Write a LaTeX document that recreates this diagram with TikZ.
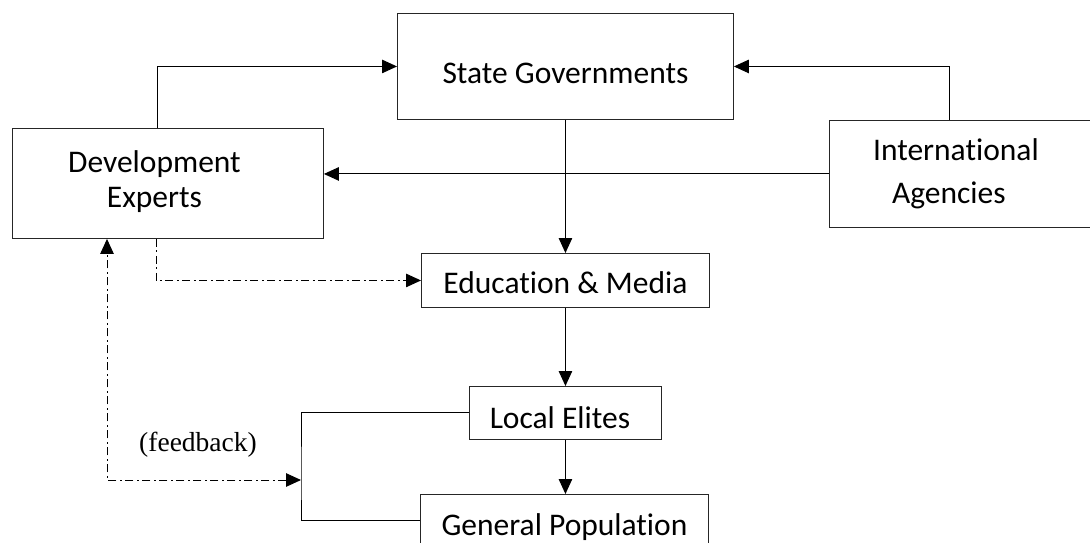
\documentclass[tikz,border=0pt]{standalone}
\usepackage{fontspec}
\setmainfont[Ligatures=NoCommon]{Carlito}
\newfontfamily\notefont{Liberation Serif}
\usetikzlibrary{arrows.meta,calc}
\begin{document}
\begin{tikzpicture}[x=1pt,y=-1pt,
  box/.style={draw=black!85, line width=0.9pt, rectangle, inner sep=0pt,
    font=\fontsize{31.5}{35}\selectfont, anchor=north west},
  tip/.style={-{Triangle[length=15pt,width=13.5pt]}},
  link/.style={draw=black, line width=1pt, tip},
  fb/.style={draw=black, line width=1pt, dash pattern=on 8pt off 3.5pt on 2pt off 3.5pt}]
\useasboundingbox (0,0) rectangle (1090,542);
\clip (0,0) rectangle (1090,542);

% boxes (a trailing empty rule nudges the text off centre where needed)
\node[box, minimum width=336pt, text height=69.7pt, text depth=36.3pt] (sg) at (397,13)
  {State Governments};
\node[box, minimum width=311pt, text height=43.7pt, text depth=66.3pt] (dev) at (12,128)
  {\begin{tabular}[t]{@{}c@{}}Development\\Experts\end{tabular}\rule{27pt}{0pt}};
\node[box, font=\fontsize{31.5}{43}\selectfont, minimum width=300pt,
  text height=40pt, text depth=67pt] (intl) at (829,120)
  {\begin{tabular}[t]{@{}l@{}}International\\\hspace*{19pt}Agencies\end{tabular}\rule{47pt}{0pt}};
\node[box, minimum width=288pt, text height=40.3pt, text depth=13.7pt] (edu) at (421,253)
  {Education \& Media};
\node[box, minimum width=192pt, text height=41.7pt, text depth=11.3pt] (local) at (469,386)
  {Local Elites\rule{11pt}{0pt}};
\node[box, minimum width=288pt, text height=41pt, text depth=40pt] (genpop) at (420,494)
  {General Population};

\node[font=\notefont\fontsize{27.5}{30}\selectfont, inner sep=0pt] (fblabel) at (198,444.5)
  {(feedback)};

% junction points
\coordinate (brk) at (301,480);
\coordinate (gpjoin) at ($(genpop.north west)+(0,26)$);

% main flow
\draw[link] (sg.south) -- (edu.north);
\draw[link] (edu.south) -- (local.north);
\draw[link] (local.south) -- (local.south |- genpop.north);
\draw[link] ($(dev.north west)+(145,0)$) |- (sg.west);
\draw[link] ($(intl.north west)+(120,0)$) |- (sg.east);
\draw[link] (intl.west) -- (intl.west -| dev.east);

% dash-dot links
\draw[fb, tip] ($(dev.south west)+(144,0)$) |- (edu.west);
\draw[line width=1pt] (local.west) -| (brk) |- (gpjoin);
\draw[fb, {Triangle[length=15pt,width=13.5pt]}-{Triangle[length=15pt,width=13.5pt]}]
  (brk) -| ($(dev.south west)+(95,0)$);
\end{tikzpicture}
\end{document}
